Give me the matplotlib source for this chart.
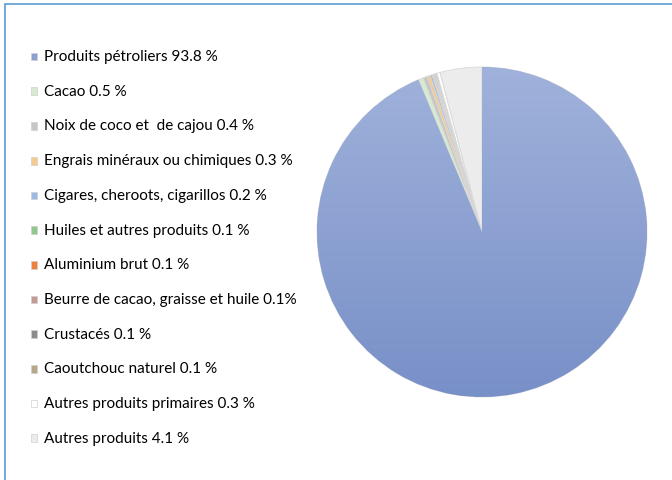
import matplotlib
matplotlib.use("Agg")
import matplotlib.pyplot as plt
import numpy as np
from matplotlib.patches import Rectangle
from matplotlib.colors import LinearSegmentedColormap

plt.rcParams['font.family'] = ['Lato', 'DejaVu Sans']

labels = ["Produits pétroliers 93.8 %", "Cacao 0.5 %", "Noix de coco et  de cajou 0.4 %",
          "Engrais minéraux ou chimiques 0.3 %", "Cigares, cheroots, cigarillos 0.2 %",
          "Huiles et autres produits 0.1 %", "Aluminium brut 0.1 %",
          "Beurre de cacao, graisse et huile 0.1%", "Crustacés 0.1 %",
          "Caoutchouc naturel 0.1 %", "Autres produits primaires 0.3 %", "Autres produits 4.1 %"]
values = [93.8, 0.5, 0.4, 0.3, 0.2, 0.1, 0.1, 0.1, 0.1, 0.1, 0.3, 4.1]
colors = ["#8c9fd0", "#d6ead0", "#c6c6c6", "#f6c98c", "#9bbbe2", "#8fc88f", "#ef7f3a",
          "#c39a94", "#8b8b8b", "#b8a68a", "#ffffff", "#ececec"]

fig = plt.figure(figsize=(6.72, 4.81), dpi=100)
fig.patches.append(Rectangle((5/672, -0.1), 1.2, (481-5)/481 + 0.1, transform=fig.transFigure,
                             fill=False, edgecolor="#5b9bd5", linewidth=1.2))

ax = fig.add_axes([(482-165)/672, (481-233-165)/481, 330/672, 330/481])
wedges, _ = ax.pie(values, colors=colors, startangle=90, counterclock=False,
                   wedgeprops=dict(edgecolor="#d9d9d9", linewidth=0.6))

cmap = LinearSegmentedColormap.from_list("g", ["#7890c8", "#a0b2db"])
grad = np.linspace(0, 1, 256).reshape(-1, 1)
im = ax.imshow(grad, extent=[-1, 1, -1, 1], origin='lower', cmap=cmap, aspect='auto', zorder=1.5)
im.set_clip_path(wedges[0])
ax.set_xlim(-1, 1)
ax.set_ylim(-1, 1)
ax.set_aspect('auto')

leg = fig.legend(wedges, labels, loc="upper left", bbox_to_anchor=(31/672, 1 - 50/481),
                 frameon=False, fontsize=11, labelspacing=1.355, handlelength=0.4,
                 handleheight=0.4, handletextpad=0.42, borderaxespad=0, borderpad=0)
for h in leg.legend_handles:
    h.set_edgecolor("#d0d0d0")
    h.set_linewidth(0.5)
    h.set_y(h.get_y() - 1.5)

fig.savefig("out.png", dpi=100)
